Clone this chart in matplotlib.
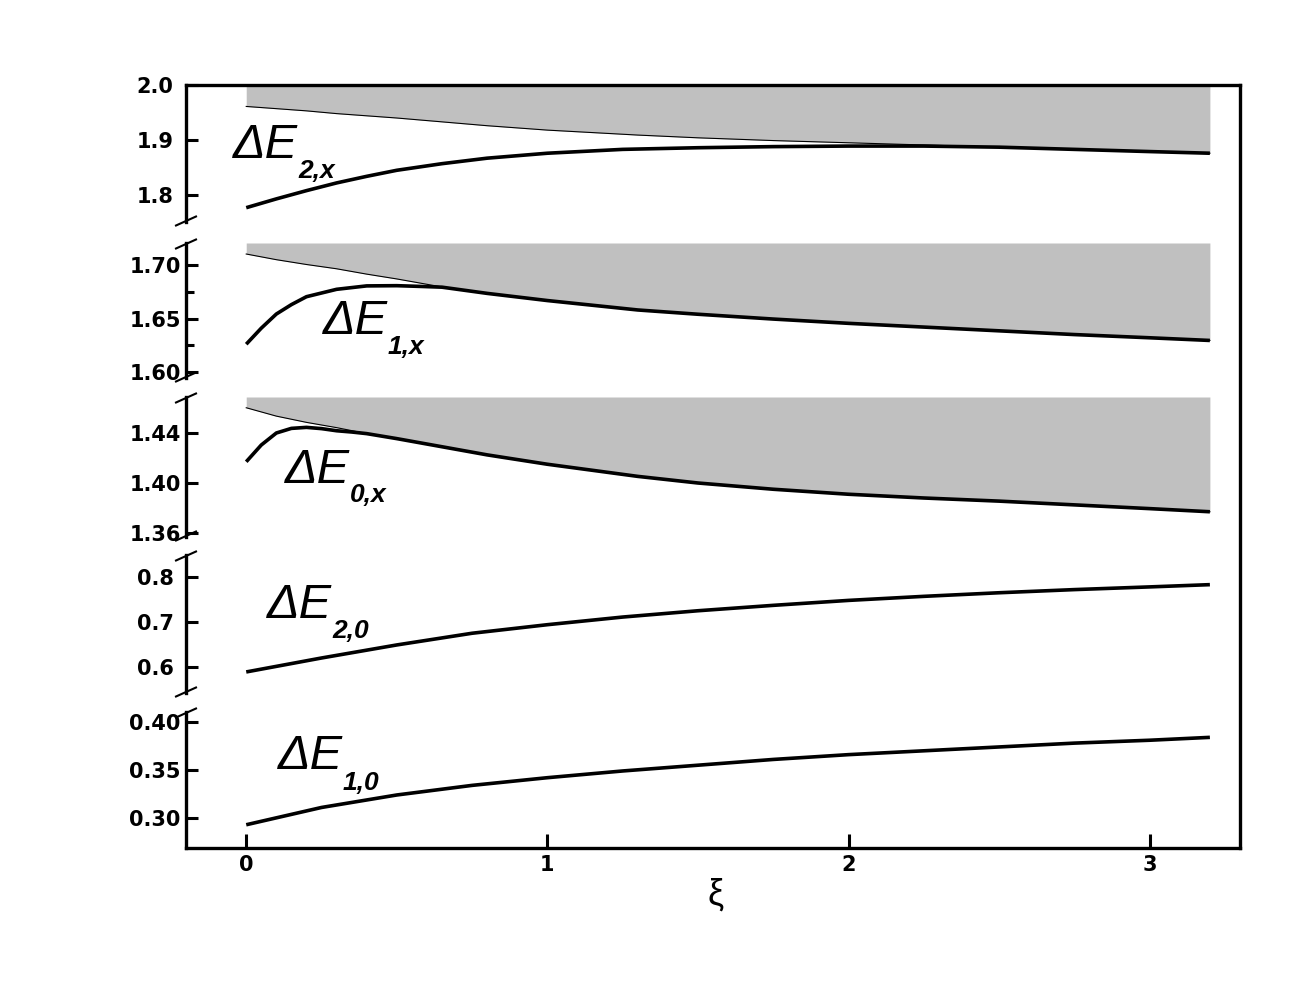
import matplotlib
matplotlib.use("Agg")
import matplotlib.pyplot as plt
from matplotlib.lines import Line2D

# ---------------- data ----------------
xi_edge = [0, 0.1, 0.2, 0.3, 0.4, 0.5, 0.65, 0.8, 1.0, 1.3, 1.5, 1.75, 2.0, 2.25, 2.5, 2.75, 3.0, 3.2]
edge_2x = [1.961, 1.957, 1.953, 1.948, 1.944, 1.940, 1.933, 1.926, 1.918, 1.909, 1.904, 1.899, 1.895, 1.891,
           1.887, 1.883, 1.879, 1.876]
edge_1x = [1.7103, 1.705, 1.7005, 1.6965, 1.6915, 1.687, 1.6795, 1.6735, 1.6668, 1.658, 1.654, 1.6495, 1.6455,
           1.642, 1.6385, 1.635, 1.632, 1.6295]
edge_0x = [1.4602, 1.4535, 1.4485, 1.4443, 1.4395, 1.4355, 1.429, 1.4225, 1.415, 1.4053, 1.400, 1.395, 1.391,
           1.388, 1.3855, 1.3825, 1.3795, 1.377]

xi_2x = [0, 0.1, 0.2, 0.3, 0.4, 0.5, 0.65, 0.8, 1.0, 1.25, 1.5, 1.75, 2.0, 2.25, 2.5, 2.75, 3.0, 3.2]
dE_2x = [1.777, 1.793, 1.808, 1.822, 1.834, 1.845, 1.857, 1.867, 1.876, 1.883, 1.886, 1.888, 1.889, 1.889,
         1.887, 1.883, 1.879, 1.876]

xi_1x = [0, 0.05, 0.1, 0.15, 0.2, 0.3, 0.4, 0.5, 0.58, 0.65, 0.8, 1.0, 1.3, 1.5, 1.75, 2.0, 2.25, 2.5, 2.75,
         3.0, 3.2]
dE_1x = [1.626, 1.641, 1.6542, 1.663, 1.6704, 1.6773, 1.6805, 1.6807, 1.6800, 1.6793, 1.6735, 1.6668, 1.658,
         1.654, 1.6495, 1.6455, 1.642, 1.6385, 1.635, 1.632, 1.6295]

xi_0x = [0, 0.05, 0.1, 0.15, 0.2, 0.25, 0.3, 0.35, 0.4, 0.5, 0.65, 0.8, 1.0, 1.3, 1.5, 1.75, 2.0, 2.25, 2.5,
         2.75, 3.0, 3.2]
dE_0x = [1.417, 1.4304, 1.4400, 1.4437, 1.4445, 1.4435, 1.4418, 1.4408, 1.4395, 1.4355, 1.429, 1.4225, 1.415,
         1.4053, 1.400, 1.395, 1.391, 1.388, 1.3855, 1.3825, 1.3795, 1.377]

xi_lo = [0, 0.25, 0.5, 0.75, 1.0, 1.25, 1.5, 1.75, 2.0, 2.25, 2.5, 2.75, 3.0, 3.2]
dE_20 = [0.589, 0.620, 0.649, 0.675, 0.694, 0.711, 0.725, 0.737, 0.748, 0.757, 0.765, 0.772, 0.778, 0.783]
dE_10 = [0.293, 0.311, 0.324, 0.334, 0.342, 0.349, 0.355, 0.361, 0.366, 0.370, 0.374, 0.378, 0.381, 0.384]

yticks_p1 = [1.8, 1.9, 2.0];       ylabels_p1 = ["1.8", "1.9", "2.0"]
yticks_p2 = [1.60, 1.65, 1.70];    ylabels_p2 = ["1.60", "1.65", "1.70"]
yminor_p2 = [1.625, 1.675]
yticks_p3 = [1.36, 1.40, 1.44];    ylabels_p3 = ["1.36", "1.40", "1.44"]
yticks_p4 = [0.6, 0.7, 0.8];       ylabels_p4 = ["0.6", "0.7", "0.8"]
yticks_p5 = [0.30, 0.35, 0.40];    ylabels_p5 = ["0.30", "0.35", "0.40"]
xticks = [0, 1, 2, 3];             xlabels = ["0", "1", "2", "3"]

ylim_p1 = (1.751, 2.0)
ylim_p2 = (1.5944, 1.7206)
ylim_p3 = (1.3568, 1.4688)
ylim_p4 = (0.5422, 0.8489)
ylim_p5 = (0.2688, 0.4104)
xlim = (-0.2, 3.3)

# ---------------- layout (pixels) ----------------
W, H = 1310, 981
L, R = 186, 1240
PX = 100 / 72.0

fig = plt.figure(figsize=(W / 100, H / 100), dpi=100)


def rect(top, bot):
    return [L / W, 1 - bot / H, (R - L) / W, (bot - top) / H]


GRAY = "#c0c0c0"
LW_SP = 2.4
LW_C = 2.6
TICKFONT = dict(family="DejaVu Sans", weight="bold", size=15)

panels = [
    dict(box=(85, 222), ylim=ylim_p1, ticks=yticks_p1, labels=ylabels_p1, minor=[],
         edge=edge_2x, cx=xi_2x, cy=dE_2x, top_break=False, bot_break=True),
    dict(box=(243, 378), ylim=ylim_p2, ticks=yticks_p2, labels=ylabels_p2, minor=yminor_p2,
         edge=edge_1x, cx=xi_1x, cy=dE_1x, top_break=True, bot_break=True),
    dict(box=(397, 537), ylim=ylim_p3, ticks=yticks_p3, labels=ylabels_p3, minor=[],
         edge=edge_0x, cx=xi_0x, cy=dE_0x, top_break=True, bot_break=True),
    dict(box=(555, 693), ylim=ylim_p4, ticks=yticks_p4, labels=ylabels_p4, minor=[],
         edge=None, cx=xi_lo, cy=dE_20, top_break=True, bot_break=True),
    dict(box=(712, 848), ylim=ylim_p5, ticks=yticks_p5, labels=ylabels_p5, minor=[],
         edge=None, cx=xi_lo, cy=dE_10, top_break=True, bot_break=False),
]

for p in panels:
    top, bot = p["box"]
    ax = fig.add_axes(rect(top, bot))
    ax.patch.set_visible(False)
    ax.set_xlim(*xlim)
    ax.set_ylim(*p["ylim"])
    for s in ("top", "right", "bottom"):
        ax.spines[s].set_visible(False)
    ax.spines["left"].set_linewidth(LW_SP)
    ax.set_xticks([])
    ax.set_yticks(p["ticks"])
    ax.set_yticklabels(p["labels"], fontdict=TICKFONT)
    if p["minor"]:
        ax.set_yticks(p["minor"], minor=True)
    ax.tick_params(axis="y", which="major", direction="in", length=8.5, width=2.2,
                   pad=31 / PX)
    ax.tick_params(axis="y", which="minor", direction="in", length=6, width=2.2)
    for lab in ax.get_yticklabels():
        lab.set_horizontalalignment("center")
    if p["edge"] is not None:
        ytop = p["ylim"][1]
        ax.fill_between(xi_edge, p["edge"], ytop, color=GRAY, lw=0, zorder=1)
        ax.plot(xi_edge, p["edge"], color="k", lw=0.8, zorder=2)
    ax.plot(p["cx"], p["cy"], color="k", lw=LW_C, zorder=3, solid_capstyle="butt")
    # break marks on the left spine
    for flag, ypix in ((p["top_break"], top + 1), (p["bot_break"], bot - 1)):
        if flag:
            fig.add_artist(Line2D([(L - 10) / W, (L + 10) / W],
                                  [1 - (ypix + 4.5) / H, 1 - (ypix - 4.5) / H],
                                  transform=fig.transFigure, color="k", lw=1.5))

# frame (top, right, bottom) with x ticks
axf = fig.add_axes(rect(85, 848))
axf.patch.set_visible(False)
axf.set_zorder(10)
axf.set_xlim(*xlim)
axf.set_ylim(0, 1)
axf.spines["left"].set_visible(False)
for s in ("top", "right", "bottom"):
    axf.spines[s].set_linewidth(LW_SP)
axf.set_yticks([])
axf.set_xticks(xticks)
axf.set_xticklabels(xlabels, fontdict=TICKFONT)
axf.tick_params(axis="x", direction="in", length=10, width=2.2, pad=5)

# axis label
fig.text(716 / W, 1 - 905 / H, "ξ", ha="center", va="baseline",
         family="Liberation Sans", fontsize=26)

# curve labels
labels = [
    ((233, 158.5), (298, 178), "2,x"),
    ((323, 334), (388, 354), "1,x"),
    ((285, 482.7), (350, 501.7), "0,x"),
    ((267, 617.7), (332, 638), "2,0"),
    ((278, 769), (343, 790), "1,0"),
]
for (mx, my), (sx, sy), sub in labels:
    fig.text(mx / W, 1 - my / H, "ΔE", ha="left", va="baseline",
             family="Liberation Sans", style="italic", fontsize=35)
    fig.text(sx / W, 1 - sy / H, sub, ha="left", va="baseline",
             family="Liberation Sans", style="italic", weight="bold", fontsize=19)

fig.savefig("out.png", dpi=100)
